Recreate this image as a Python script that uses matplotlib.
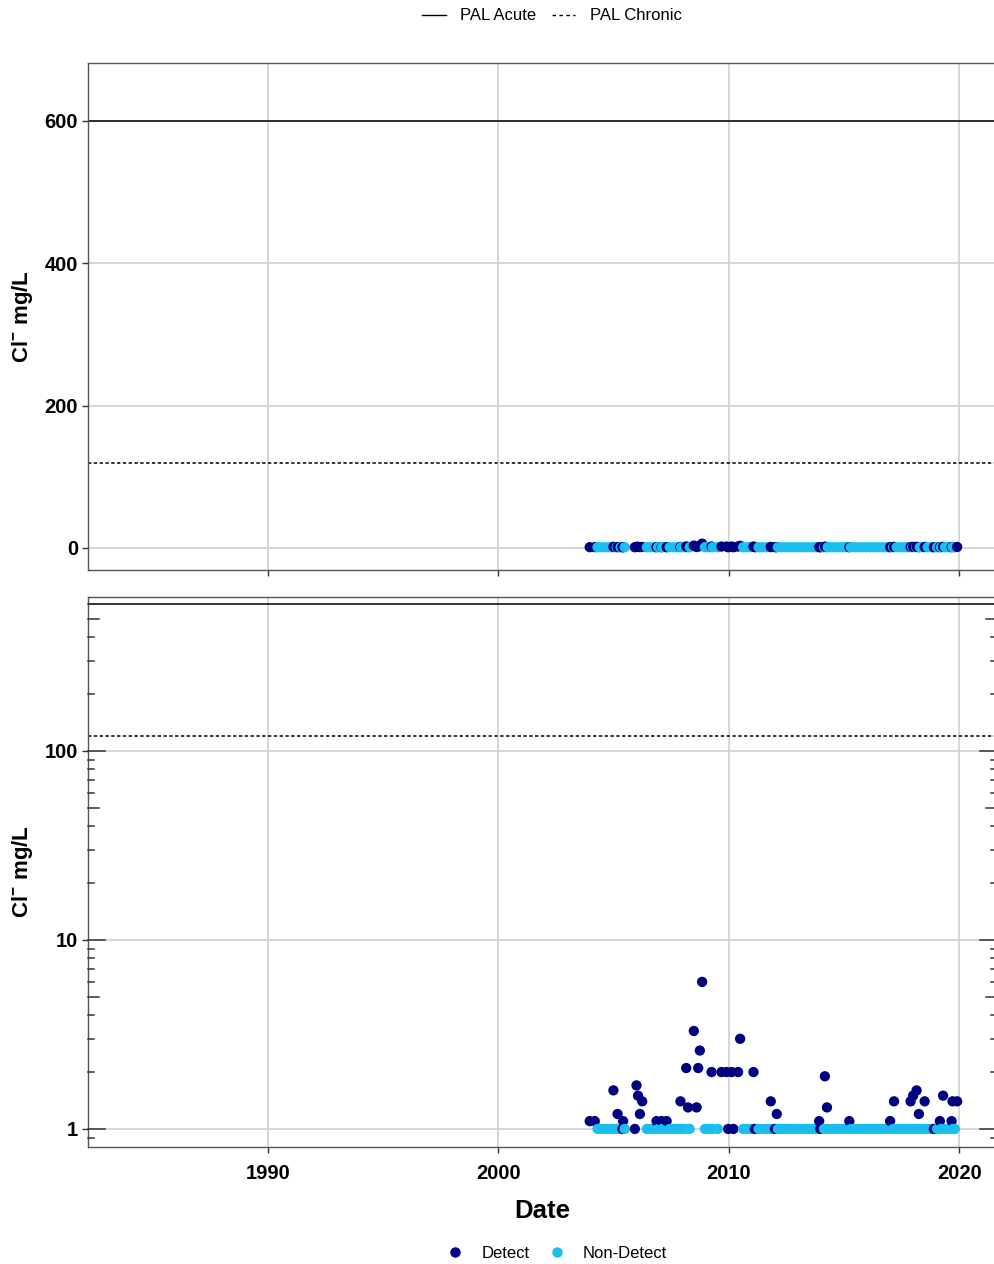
import matplotlib.pyplot as plt
import matplotlib.transforms as mtransforms
from matplotlib.lines import Line2D
import numpy as np

plt.rcParams['font.family'] = ['Liberation Sans', 'DejaVu Sans']
plt.rcParams['mathtext.fontset'] = 'custom'
plt.rcParams['mathtext.rm'] = 'Liberation Sans:bold'
plt.rcParams['mathtext.bf'] = 'Liberation Sans:bold'

# chloride samples above detection (decimal year, mg/L)
detect_year = [2003.96, 2004.18, 2004.99, 2005.17, 2005.38, 2005.41, 2005.92, 2005.99,
               2006.06, 2006.14, 2006.24, 2006.86, 2007.08, 2007.30, 2007.90, 2008.15,
               2008.23, 2008.48, 2008.60, 2008.67, 2008.74, 2008.84, 2009.25, 2009.68,
               2009.90, 2009.97, 2010.12, 2010.20, 2010.40, 2010.49, 2011.07, 2011.13,
               2011.82, 2012.00, 2012.08, 2013.92, 2013.97, 2014.17, 2014.26, 2015.23,
               2017.00, 2017.17, 2017.89, 2018.00, 2018.15, 2018.25, 2018.50, 2018.90,
               2019.16, 2019.30, 2019.67, 2019.71, 2019.91]
detect_val = [1.1, 1.1, 1.6, 1.2, 1.0, 1.1, 1.0, 1.7,
              1.5, 1.2, 1.4, 1.1, 1.1, 1.1, 1.4, 2.1,
              1.3, 3.3, 1.3, 2.1, 2.6, 6.0, 2.0, 2.0,
              2.0, 1.0, 2.0, 1.0, 2.0, 3.0, 2.0, 1.0,
              1.4, 1.0, 1.2, 1.1, 1.0, 1.9, 1.3, 1.1,
              1.1, 1.4, 1.4, 1.5, 1.6, 1.2, 1.4, 1.0,
              1.1, 1.5, 1.1, 1.4, 1.4]

# non-detects, reported at the 1 mg/L detection limit
nondetect_year = [2004.30, 2004.47, 2004.63, 2004.80, 2004.97, 2005.13, 2005.30, 2005.48,
                  2006.44, 2006.60, 2006.77, 2006.93, 2007.10, 2007.27, 2007.43, 2007.60,
                  2007.77, 2007.93, 2008.10, 2008.30,
                  2008.96, 2009.13, 2009.30, 2009.52,
                  2010.62, 2010.79, 2010.96, 2011.29, 2011.46, 2011.63, 2011.79, 2012.13,
                  2012.29, 2012.46, 2012.63, 2012.79, 2012.96, 2013.13, 2013.29, 2013.46,
                  2013.63, 2013.79, 2014.13, 2014.29, 2014.46, 2014.63, 2014.79, 2014.96,
                  2015.13, 2015.29, 2015.46, 2015.63, 2015.79, 2015.96, 2016.13, 2016.29,
                  2016.46, 2016.63, 2016.79, 2016.96, 2017.13, 2017.29, 2017.46, 2017.63,
                  2017.79, 2017.96, 2018.13, 2018.29, 2018.46, 2018.63, 2018.79, 2019.04,
                  2019.21, 2019.38, 2019.54, 2019.71, 2019.81]
nondetect_val = [1.0] * len(nondetect_year)

pal_acute = 600
pal_chronic = 120
year_ticks = [1990, 2000, 2010, 2020]
lin_ticks = [0, 200, 400, 600]
log_ticks = [1, 10, 100]

DETECT_C = '#000080'
NONDETECT_C = '#1ABFF0'
GRID_C = '#d4d4d4'
SPINE_C = '#555555'
CHRONIC_DASH = (0, (2.2, 1.6))

# one layer, drawn in sampling order
all_year = np.array(detect_year + nondetect_year)
all_val = np.array(detect_val + nondetect_val)
all_col = np.array([DETECT_C] * len(detect_year) + [NONDETECT_C] * len(nondetect_year))
order = np.argsort(all_year, kind='stable')
all_year, all_val, all_col = all_year[order], all_val[order], all_col[order]

fig = plt.figure(figsize=(9.94, 12.64), dpi=100)
ax1 = fig.add_axes([0.0885, 0.5491, 0.9145, 0.4011])
ax2 = fig.add_axes([0.0885, 0.0926, 0.9145, 0.4351])


def style_axis(ax):
    ax.set_xlim(1982.18, 2021.64)
    ax.set_xticks(year_ticks)
    ax.grid(True, color=GRID_C, linewidth=1.3)
    ax.set_axisbelow(True)
    for s in ax.spines.values():
        s.set_color(SPINE_C)
        s.set_linewidth(1.0)
    ax.tick_params(length=4, width=1.0, color='#333333', pad=3,
                   labelsize=14.5)
    ax.tick_params(axis='x', pad=8)
    ax.axhline(pal_acute, color='black', linewidth=1.1, zorder=2)
    ax.axhline(pal_chronic, color='black', linewidth=1.1, linestyle=CHRONIC_DASH, zorder=2)
    ax.set_ylabel(r'Cl$^{\mathbf{-}}$ mg/L', fontsize=16, fontweight='bold', labelpad=7)
    ax.scatter(all_year, all_val, s=55, c=all_col, linewidths=0, zorder=3)


# top panel, linear scale
style_axis(ax1)
ax1.set_ylim(-30.9, 681.5)
ax1.set_yticks(lin_ticks)
ax1.tick_params(axis='x', labelbottom=False)
for lab in ax1.get_yticklabels():
    lab.set_fontweight('bold')

# bottom panel, log scale
ax2.set_yscale('log')
style_axis(ax2)
ax2.set_ylim(0.803, 653)
ax2.set_yticks(log_ticks)
ax2.set_yticklabels([str(t) for t in log_ticks])
ax2.yaxis.set_minor_locator(plt.NullLocator())
for lab in ax2.get_xticklabels() + ax2.get_yticklabels():
    lab.set_fontweight('bold')
ax2.set_xlabel('Date', fontsize=18.5, fontweight='bold', labelpad=12)

# log ticks drawn inside the panel on both sides
trans = mtransforms.blended_transform_factory(ax2.transAxes, ax2.transData)
w = 0.9145 * 994
for dec in [0.1, 1, 10, 100]:
    for m in range(1, 10):
        v = m * dec
        if v < 0.803 or v > 653:
            continue
        if m == 1:
            ln = 17 / w
        elif m == 5:
            ln = 11 / w
        else:
            ln = 6 / w
        for x0, x1 in [(0, ln), (1, 1 - ln)]:
            ax2.add_line(Line2D([x0, x1], [v, v], transform=trans, color='#333333',
                                linewidth=1.1, clip_on=False, zorder=5))

# legends
pal_handles = [Line2D([], [], color='black', linewidth=1.0),
               Line2D([], [], color='black', linewidth=1.0, linestyle=(0, (2.5, 2.5)))]
fig.legend(pal_handles, ['PAL Acute', 'PAL Chronic'], loc='center',
           bbox_to_anchor=(552 / 994, 1 - 16 / 1264), ncol=2, frameon=False,
           fontsize=12, handlelength=1.4, handletextpad=0.9, columnspacing=0.9)

pt_handles = [Line2D([], [], linestyle='none', marker='o', markersize=7.5,
                     markerfacecolor=DETECT_C, markeredgewidth=0),
              Line2D([], [], linestyle='none', marker='o', markersize=7.5,
                     markerfacecolor=NONDETECT_C, markeredgewidth=0)]
fig.legend(pt_handles, ['Detect', 'Non-Detect'], loc='center',
           bbox_to_anchor=(555 / 994, 1 - 1253 / 1264), ncol=2, frameon=False,
           fontsize=12, handlelength=1.5, handletextpad=0.8, columnspacing=0.9)

fig.savefig('out.png', dpi=100)
